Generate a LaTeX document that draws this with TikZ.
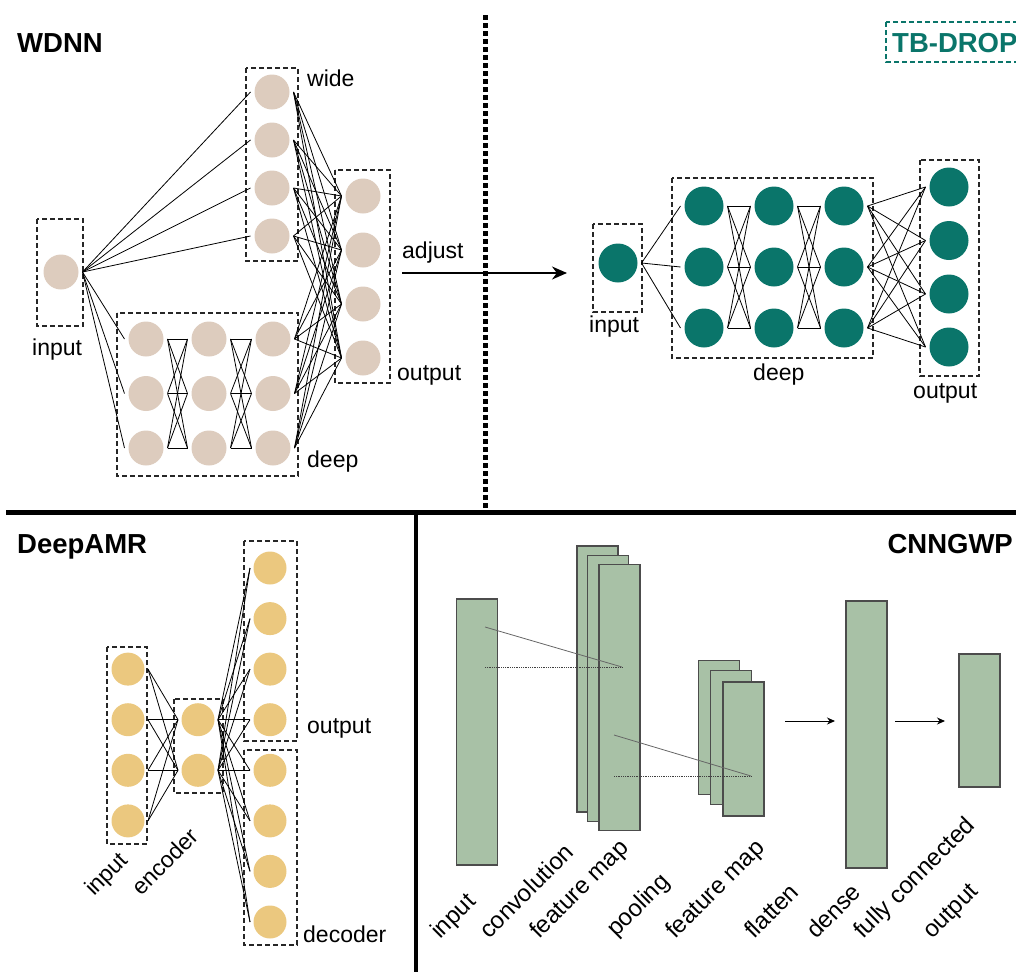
\documentclass[tikz,border=0pt]{standalone}
\usepackage{fontspec}
\setmainfont{Liberation Sans}
\usetikzlibrary{arrows.meta, positioning, calc}
\definecolor{wdbeige}{RGB}{221,204,190}
\definecolor{tbteal}{RGB}{10,117,106}
\definecolor{amrgold}{RGB}{235,200,127}
\definecolor{cnngreen}{RGB}{168,193,166}

\begin{document}
\begin{tikzpicture}[x=1pt, y=-1pt,
    neuron/.style={circle, inner sep=0pt, outer sep=4pt, draw=none},
    wdn/.style={neuron, fill=wdbeige, minimum size=35pt},
    tbn/.style={neuron, fill=tbteal, minimum size=39pt},
    amrn/.style={neuron, fill=amrgold, minimum size=33pt, outer sep=3.5pt},
    layer/.style={rectangle, fill=cnngreen, draw=black!70, line width=1.1pt,
                  inner sep=0pt, minimum width=41pt},
    grp/.style={draw=black!85, line width=1.2pt, dash pattern=on 5pt off 3pt},
    wire/.style={line width=0.8pt},
    lbl/.style={font=\fontsize{23}{27}\selectfont, inner sep=0pt},
    rlbl/.style={font=\fontsize{24}{28}\selectfont, inner sep=0pt, rotate=45, anchor=base west},
    ttl/.style={font=\fontsize{27.5}{32}\selectfont\bfseries, inner sep=0pt},
    arr/.style={-{Stealth[length=8pt, width=7pt]}, line width=1pt},
  ]
    \useasboundingbox (0,0) rectangle (1016,972);

    % panel dividers
    \draw[line width=5pt] (6,512) -- (1016,512);
    \draw[line width=4pt] (416,512) -- (416,972);
    \draw[line width=5pt, dash pattern=on 4.5pt off 3.5pt] (485,15) -- (485,508);

    % ---- WDNN ----
    \node[ttl, anchor=base west] (wdttl) at (17,52) {WDNN};
    \draw[grp] (37,219) rectangle (83,326);
    \draw[grp] (246,68) rectangle (298,261);
    \draw[grp] (117,313) rectangle (298,476);
    \draw[grp] (335,170) rectangle (390,383);

    \node[wdn] (wi) at (61,272) {};
    \foreach \i/\y in {1/92,2/140,3/188,4/236}
      \node[wdn] (w\i) at (272,\y) {};
    \foreach \c/\x in {1/146,2/209,3/273}
      \foreach \r/\y in {1/339,2/393.5,3/448}
        \node[wdn] (d\c\r) at (\x,\y) {};
    \foreach \j/\y in {1/196,2/250,3/304,4/358}
      \node[wdn] (o\j) at (363,\y) {};

    \foreach \i in {1,...,4} \draw[wire] (wi.east) -- (w\i.west);
    \foreach \r in {1,2,3} \draw[wire] (wi.east) -- (d1\r.west);
    \foreach \r in {1,2,3}
      \foreach \s in {1,2,3} {
        \draw[wire] (d1\r.east) -- (d2\s.west);
        \draw[wire] (d2\r.east) -- (d3\s.west);
      }
    \foreach \j in {1,...,4} {
      \foreach \i in {1,...,4} \draw[wire] (w\i.east) -- (o\j.west);
      \foreach \r in {1,2,3} \draw[wire] (d3\r.east) -- (o\j.west);
    }

    \node[lbl, anchor=base west] (wdin) at (32,355) {input};
    \node[lbl, anchor=base west] (wdwide) at (307,86) {wide};
    \node[lbl, anchor=base west] (wddeep) at (307,467) {deep};
    \node[lbl, anchor=base west] (wdout) at (397,380) {output};

    % adjust arrow
    \coordinate (adjA) at (402,273);
    \coordinate (adjB) at (567,273);
    \draw[line width=1.6pt, -{Stealth[length=15pt, width=13pt]}] (adjA) -- (adjB);
    \node[lbl, anchor=base west] (adj) at (402,258) {adjust};

    % ---- TB-DROP ----
    \draw[grp, draw=tbteal, line width=1.5pt] (886,22) rectangle (1040,62);
    \node[ttl, anchor=base west, text=tbteal] (tbttl) at (892,52) {TB-DROP};
    \draw[grp] (593,224) rectangle (642,312);
    \draw[grp] (672,178) rectangle (873,358);
    \draw[grp] (920,160) rectangle (979,376);

    \node[tbn] (ti) at (618,263) {};
    \foreach \c/\x in {1/704,2/774,3/844}
      \foreach \r/\y in {1/206,2/267,3/328}
        \node[tbn] (td\c\r) at (\x,\y) {};
    \foreach \j/\y in {1/187,2/240.5,3/294,4/347}
      \node[tbn] (to\j) at (949,\y) {};

    \foreach \r in {1,2,3} \draw[wire] (ti.east) -- (td1\r.west);
    \foreach \r in {1,2,3}
      \foreach \s in {1,2,3} {
        \draw[wire] (td1\r.east) -- (td2\s.west);
        \draw[wire] (td2\r.east) -- (td3\s.west);
      }
    \foreach \r in {1,2,3}
      \foreach \j in {1,...,4} \draw[wire] (td3\r.east) -- (to\j.west);

    \node[lbl, anchor=base west] (tbin) at (589,332) {input};
    \node[lbl, anchor=base west] (tbdeep) at (753,380) {deep};
    \node[lbl, anchor=base west] (tbout) at (913,398) {output};

    % ---- DeepAMR ----
    \node[ttl, anchor=base west] (amrttl) at (17,553) {DeepAMR};
    \draw[grp] (107,647) rectangle (147,844);
    \draw[grp] (174,699) rectangle (223,793);
    \draw[grp] (244,541) rectangle (297,741);
    \draw[grp] (244,750) rectangle (297,945);

    \foreach \i/\y in {1/669.1,2/719.7,3/770.3,4/820.9}
      \node[amrn] (ai\i) at (128,\y) {};
    \foreach \j/\y in {1/719.7,2/770.3}
      \node[amrn] (ae\j) at (198,\y) {};
    \foreach \k/\y in {1/568,2/618.6,3/669.1,4/719.7}
      \node[amrn] (ao\k) at (270,\y) {};
    \foreach \k/\y in {1/770.3,2/820.9,3/871.4,4/922}
      \node[amrn] (ad\k) at (270,\y) {};

    \foreach \i in {1,...,4}
      \foreach \j in {1,2} \draw[wire] (ai\i.east) -- (ae\j.west);
    \foreach \j in {1,2}
      \foreach \k in {1,...,4} {
        \draw[wire] (ae\j.east) -- (ao\k.west);
        \draw[wire] (ae\j.east) -- (ad\k.west);
      }

    \node[lbl, rotate=45, anchor=base west] (amrin) at (94,897) {input};
    \node[lbl, rotate=45, anchor=base west] (amrenc) at (141,897) {encoder};
    \node[lbl, anchor=base west] (amrout) at (307,733) {output};
    \node[lbl, anchor=base west] (amrdec) at (303,942) {decoder};

    % ---- CNNGWP ----
    \node[ttl, anchor=base east] (cnttl) at (1013,553) {CNNGWP};
    \node[layer, minimum height=266pt] (cin) at (477,732) {};
    \node[layer, minimum height=266pt] (fm1) at (597.5,679) {};
    \node[layer, minimum height=266pt] (fm2) at (608,688.5) {};
    \node[layer, minimum height=266pt] (fm3) at (619.5,697.5) {};
    \node[layer, minimum height=134pt] (pl1) at (719,727.5) {};
    \node[layer, minimum height=134pt] (pl2) at (731,737.5) {};
    \node[layer, minimum height=134pt] (pl3) at (743.5,749) {};
    \node[layer, minimum height=267pt] (dense) at (866.5,734.5) {};
    \node[layer, minimum height=133pt] (cout) at (979.5,720.5) {};

    \coordinate (k1a) at (485,627);
    \coordinate (k1b) at (485,667);
    \coordinate (k1c) at (622,667);
    \coordinate (k2a) at (614,735);
    \coordinate (k2b) at (614,776);
    \coordinate (k2c) at (751,776);
    \draw[black!60, line width=0.8pt] (k1a) -- (k1c);
    \draw[black!75, line width=0.8pt, densely dotted] (k1b) -- (k1c);
    \draw[black!60, line width=0.8pt] (k2a) -- (k2c);
    \draw[black!75, line width=0.8pt, densely dotted] (k2b) -- (k2c);

    \coordinate (flA) at (785,721);
    \coordinate (flB) at (835,721);
    \coordinate (fcA) at (895,721);
    \coordinate (fcB) at (945,721);
    \draw[arr] (flA) -- (flB);
    \draw[arr] (fcA) -- (fcB);

    \node[rlbl] (cnin) at (440,940) {input};
    \node[rlbl] (cnconv) at (489,940) {convolution};
    \node[rlbl] (cnfm1) at (539,940) {feature map};
    \node[rlbl] (cnpool) at (616,938) {pooling};
    \node[rlbl] (cnfm2) at (675,940) {feature map};
    \node[rlbl] (cnflat) at (754,940) {flatten};
    \node[rlbl] (cndense) at (816,940) {dense};
    \node[rlbl] (cnfc) at (863,940) {fully connected};
    \node[rlbl] (cnout) at (932,940) {output};
  \end{tikzpicture}
\end{document}
